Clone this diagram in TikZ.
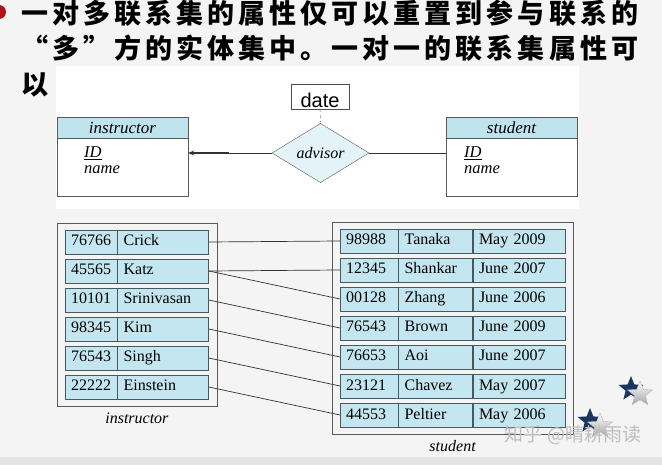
\documentclass[tikz,border=0pt]{standalone}
\usepackage{fontspec}
\setmainfont{Liberation Serif}
\newfontfamily\cjkfont[LetterSpace=15]{Noto Sans CJK SC}
\newfontfamily\markfont{Noto Sans CJK SC}
\newfontfamily\datefont{Liberation Sans}
\usetikzlibrary{positioning,fit,shapes.geometric,arrows.meta}

\definecolor{slidebg}{HTML}{F4F4F4}
\definecolor{stripgray}{HTML}{E4E4E4}
\definecolor{headblue}{HTML}{BFE4EE}
\definecolor{cellblue}{HTML}{C4E6F0}
\definecolor{relblue}{HTML}{E4F3F8}
\definecolor{framegray}{HTML}{5A5A5A}
\definecolor{celledge}{HTML}{46595F}
\definecolor{linegray}{HTML}{333333}
\definecolor{bulletred}{HTML}{B0141A}
\definecolor{starnavy}{HTML}{1C3560}

\begin{document}
\begin{tikzpicture}[
x=1pt,
y=-1pt,
every node/.style={font=\fontsize{16}{18}\selectfont},
enthead/.style={draw=framegray, fill=headblue, minimum width=131pt, minimum height=21pt, inner sep=0pt, font=\fontsize{17}{19}\selectfont\itshape},
entbody/.style={draw=framegray, fill=white, minimum width=131pt, minimum height=58pt, inner sep=0pt},
attr/.style={align=left, inner sep=0pt, anchor=west, font=\fontsize{16.5}{16}\selectfont\itshape},
rel/.style={diamond, draw=framegray, fill=relblue, minimum width=97pt, minimum height=52pt, inner sep=0pt, font=\fontsize{16}{18}\selectfont\itshape},
datebox/.style={draw=black!70, fill=white, minimum width=58pt, minimum height=25pt, inner sep=0pt, text height=23pt, text depth=0pt, font=\datefont\fontsize{20}{22}\selectfont},
cell/.style={draw=celledge, fill=cellblue, minimum height=24pt, inner xsep=6pt, inner ysep=0pt, text height=11pt, text depth=3pt, align=left, anchor=west},
tablebox/.style={draw=framegray, inner xsep=8pt, inner ysep=6.5pt},
caption/.style={font=\fontsize{16}{18}\selectfont\itshape},
link/.style={draw=linegray, line width=0.7pt},
cjkline/.style={anchor=west, inner sep=0pt, font=\cjkfont\bfseries\fontsize{27}{30}\selectfont}
]

\useasboundingbox (0,0) rectangle (662,465);
\fill[slidebg] (0,0) rectangle (662,465);
\fill[stripgray] (0,457) rectangle (662,465);

% slide text
\fill[bulletred] (-1,12) circle (7);
\node[cjkline] (line1) at (21,13) {一对多联系集的属性仅可以重置到参与联系的};
\node[cjkline] (line2) at (21,48) {“多”方的实体集中。一对一的联系集属性可};
\node[cjkline] (line3) at (21,85) {以};

% E-R panel
\fill[white] (56,66) rectangle (579,209);

\node[enthead] (ihead) at (122.5,127.5) {instructor};
\node[entbody, below=0pt of ihead] (ibody) {};
\node[attr] (iattr) at (84,160.5) {\underline{ID}\\name};

\node[enthead] (shead) at (511.5,127.5) {student};
\node[entbody, below=0pt of shead] (sbody) {};
\node[attr] (sattr) at (464,160.5) {\underline{ID}\\name};

\node[rel] (advisor) at (320.5,153) {advisor};
\node[datebox] (date) at (320,96.5) {date};

\draw[dashed, draw=black!70] (date.south) -- (advisor.north);
\draw[link] (advisor.east) -- (advisor.east -| sbody.west);
\coordinate (arrowtail) at (229,153);
\draw[link] (advisor.west) -- (arrowtail);
\draw[line width=1.3pt, draw=linegray, -{Stealth[length=6pt,width=5pt]}] (arrowtail) -- (advisor.west -| ibody.east);

% instructor rows
\foreach \id/\nm [count=\r] in {76766/Crick, 45565/Katz, 10101/Srinivasan, 98345/Kim, 76543/Singh, 22222/Einstein}{
  \node[cell, text width=40pt] (iid\r) at (65,{242+29*(\r-1)}) {\id};
  \node[cell, text width=79pt] (inm\r) at (iid\r.east) {\nm};
}
\node[tablebox, fit=(iid1)(inm6)] (itab) {};
\node[caption, below=3pt of itab] (icap) {instructor};

% student rows
\foreach \id/\nm/\dt [count=\r] in {98988/Tanaka/May 2009, 12345/Shankar/June 2007, 00128/Zhang/June 2006, 76543/Brown/June 2009, 76653/Aoi/June 2007, 23121/Chavez/May 2007, 44553/Peltier/May 2006}{
  \node[cell, text width=46pt] (sid\r) at (340,{241+29*(\r-1)}) {\id};
  \node[cell, text width=62pt] (snm\r) at (sid\r.east) {\nm};
  \node[cell, text width=80pt] (sdt\r) at (snm\r.east) {\dt};
}
\node[tablebox, fit=(sid1)(sdt7)] (stab) {};
\node[caption, below=3pt of stab] (scap) {student};

% advisor links
\foreach \a/\b in {1/1, 2/2, 2/3, 3/4, 4/5, 5/6, 6/7}{
  \draw[link] (inm\a.east) -- (sid\b.west);
}

% decoration
\node[star, star points=5, star point ratio=2.3, fill=starnavy, minimum size=26pt, inner sep=0pt] (star1) at (631,389) {};
\node[star, star points=5, star point ratio=2.3, top color=white, bottom color=gray!70, draw=gray!60, minimum size=26pt, inner sep=0pt] (star2) at (640,394) {};
\node[star, star points=5, star point ratio=2.3, fill=starnavy, minimum size=26pt, inner sep=0pt] (star3) at (590,421) {};
\node[star, star points=5, star point ratio=2.3, top color=white, bottom color=gray!70, draw=gray!60, minimum size=26pt, inner sep=0pt] (star4) at (600,426) {};
\node[text=black!25, font=\markfont\fontsize{19}{20}\selectfont] (mark) at (573,435) {知乎 @晴耕雨读};

\end{tikzpicture}
\end{document}
